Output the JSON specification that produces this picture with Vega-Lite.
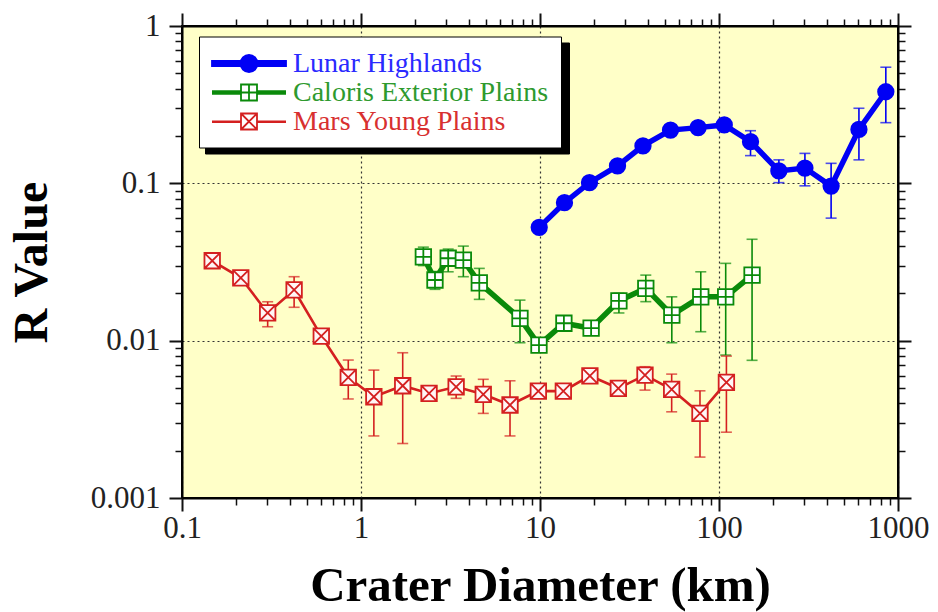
{
  "$schema": "https://vega.github.io/schema/vega-lite/v6.json",
  "width": 716,
  "height": 472,
  "autosize": {"type": "none"},
  "padding": {"left": 182, "top": 26, "right": 40, "bottom": 114},
  "background": "white",
  "view": {"fill": "#ffffc8", "stroke": "black", "strokeWidth": 2},
  "config": {
    "font": "Liberation Serif",
    "legend": {
      "orient": "none",
      "title": null,
      "symbolSize": 784,
      "labelOffset": 52,
      "padding": 12,
      "rowPadding": 0,
      "labelFont": "Liberation Serif",
      "labelFontSize": 28,
      "labelLimit": 600
    }
  },
  "data": {
    "values": [
      {"series": "Lunar Highlands", "D": 9.9, "R": 0.0525},
      {"series": "Lunar Highlands", "D": 13.7, "R": 0.0753},
      {"series": "Lunar Highlands", "D": 18.9, "R": 0.101},
      {"series": "Lunar Highlands", "D": 27.1, "R": 0.129},
      {"series": "Lunar Highlands", "D": 37.6, "R": 0.173},
      {"series": "Lunar Highlands", "D": 53.6, "R": 0.218},
      {"series": "Lunar Highlands", "D": 76.4, "R": 0.226},
      {"series": "Lunar Highlands", "D": 107, "R": 0.235},
      {"series": "Lunar Highlands", "D": 150, "R": 0.184, "lo": 0.150, "hi": 0.216},
      {"series": "Lunar Highlands", "D": 216, "R": 0.120, "lo": 0.101, "hi": 0.141},
      {"series": "Lunar Highlands", "D": 302, "R": 0.125, "lo": 0.0964, "hi": 0.155},
      {"series": "Lunar Highlands", "D": 423, "R": 0.096, "lo": 0.0601, "hi": 0.134},
      {"series": "Lunar Highlands", "D": 605, "R": 0.220, "lo": 0.141, "hi": 0.300},
      {"series": "Lunar Highlands", "D": 855, "R": 0.382, "lo": 0.243, "hi": 0.547},
      {"series": "Caloris Exterior Plains", "D": 2.23, "R": 0.0341, "lo": 0.030, "hi": 0.0393},
      {"series": "Caloris Exterior Plains", "D": 2.59, "R": 0.0243, "lo": 0.0212, "hi": 0.0275},
      {"series": "Caloris Exterior Plains", "D": 3.07, "R": 0.0334, "lo": 0.0274, "hi": 0.0382},
      {"series": "Caloris Exterior Plains", "D": 3.73, "R": 0.0325, "lo": 0.0255, "hi": 0.0399},
      {"series": "Caloris Exterior Plains", "D": 4.58, "R": 0.0233, "lo": 0.0183, "hi": 0.0288},
      {"series": "Caloris Exterior Plains", "D": 7.73, "R": 0.01386, "lo": 0.0097, "hi": 0.0181},
      {"series": "Caloris Exterior Plains", "D": 9.87, "R": 0.00937},
      {"series": "Caloris Exterior Plains", "D": 13.6, "R": 0.0129},
      {"series": "Caloris Exterior Plains", "D": 19.3, "R": 0.0120},
      {"series": "Caloris Exterior Plains", "D": 27.6, "R": 0.0179, "lo": 0.0150, "hi": 0.0200},
      {"series": "Caloris Exterior Plains", "D": 39.0, "R": 0.0215, "lo": 0.0177, "hi": 0.0261},
      {"series": "Caloris Exterior Plains", "D": 54.5, "R": 0.01455, "lo": 0.0097, "hi": 0.0190},
      {"series": "Caloris Exterior Plains", "D": 79.1, "R": 0.0190, "lo": 0.0114, "hi": 0.0274},
      {"series": "Caloris Exterior Plains", "D": 109, "R": 0.0190, "lo": 0.0081, "hi": 0.0310},
      {"series": "Caloris Exterior Plains", "D": 153, "R": 0.0261, "lo": 0.0075, "hi": 0.0441},
      {"series": "Mars Young Plains", "D": 0.1475, "R": 0.0322},
      {"series": "Mars Young Plains", "D": 0.213, "R": 0.0251},
      {"series": "Mars Young Plains", "D": 0.301, "R": 0.0150, "lo": 0.01226, "hi": 0.01767},
      {"series": "Mars Young Plains", "D": 0.423, "R": 0.0210, "lo": 0.0163, "hi": 0.0255},
      {"series": "Mars Young Plains", "D": 0.600, "R": 0.0107},
      {"series": "Mars Young Plains", "D": 0.849, "R": 0.00585, "lo": 0.00426, "hi": 0.00753},
      {"series": "Mars Young Plains", "D": 1.18, "R": 0.00440, "lo": 0.00248, "hi": 0.0065},
      {"series": "Mars Young Plains", "D": 1.71, "R": 0.00517, "lo": 0.00222, "hi": 0.00838},
      {"series": "Mars Young Plains", "D": 2.40, "R": 0.00462},
      {"series": "Mars Young Plains", "D": 3.40, "R": 0.00509, "lo": 0.0043, "hi": 0.00596},
      {"series": "Mars Young Plains", "D": 4.82, "R": 0.00456, "lo": 0.00345, "hi": 0.00568},
      {"series": "Mars Young Plains", "D": 6.80, "R": 0.00390, "lo": 0.00248, "hi": 0.00556},
      {"series": "Mars Young Plains", "D": 9.79, "R": 0.00478},
      {"series": "Mars Young Plains", "D": 13.5, "R": 0.00478},
      {"series": "Mars Young Plains", "D": 19.0, "R": 0.00598},
      {"series": "Mars Young Plains", "D": 27.4, "R": 0.00498},
      {"series": "Mars Young Plains", "D": 38.6, "R": 0.00604, "lo": 0.00485, "hi": 0.00683},
      {"series": "Mars Young Plains", "D": 54.4, "R": 0.00490, "lo": 0.00353, "hi": 0.00613},
      {"series": "Mars Young Plains", "D": 78.3, "R": 0.00345, "lo": 0.00182, "hi": 0.0048},
      {"series": "Mars Young Plains", "D": 110, "R": 0.00543, "lo": 0.00262, "hi": 0.00798}
    ]
  },
  "encoding": {
    "color": {
      "field": "series",
      "type": "nominal",
      "scale": {
        "domain": ["Lunar Highlands", "Caloris Exterior Plains", "Mars Young Plains"],
        "range": ["#0000f5", "#0a8a0a", "#d42020"]
      },
      "legend": {
        "legendX": 23,
        "legendY": 16.5,
        "zindex": 1,
        "symbolType": "stroke",
        "symbolOpacity": 0,
        "labelOpacity": 0,
        "labelExpr": "''",
        "labelOffset": 310,
        "fillColor": "black",
        "strokeColor": "black"
      }
    }
  },
  "resolve": {"axis": {"x": "independent", "y": "independent"}},
  "layer": [
    {
      "transform": [{"filter": "isValid(datum.lo)"}],
      "mark": {"type": "rule", "strokeWidth": 1.6},
      "encoding": {
        "x": {
          "field": "D", "type": "quantitative",
          "scale": {"type": "log", "domain": [0.1, 1000], "nice": false},
          "axis": {
            "orient": "bottom",
            "values": [0.1,0.2,0.3,0.4,0.5,0.6,0.7,0.8,0.9,1,2,3,4,5,6,7,8,9,10,20,30,40,50,60,70,80,90,100,200,300,400,500,600,700,800,900,1000],
            "labelExpr": "abs(log(datum.value)/LN10 - round(log(datum.value)/LN10)) < 0.001 ? format(datum.value, '') : ''",
            "tickSize": {"condition": {"test": "abs(log(datum.value)/LN10 - round(log(datum.value)/LN10)) < 0.001", "value": 13}, "value": 7},
            "tickWidth": {"condition": {"test": "abs(log(datum.value)/LN10 - round(log(datum.value)/LN10)) < 0.001", "value": 2}, "value": 1.5},
            "tickColor": "#111",
            "grid": true,
            "gridColor": "#333",
            "gridDash": [2, 3],
            "gridWidth": 1.2,
            "gridOpacity": {"condition": {"test": "abs(log(datum.value)/LN10 - round(log(datum.value)/LN10)) < 0.001", "value": 1}, "value": 0},
            "domainColor": "black",
            "domainWidth": 2,
            "labelFont": "Liberation Serif",
            "labelFontSize": 31,
            "labelColor": "#222",
            "labelPadding": 2,
            "labelOverlap": false,
            "labelFlush": false,
            "labelBound": false,
            "title": "Crater Diameter (km)",
            "titleFont": "Liberation Serif",
            "titleFontSize": 49,
            "titleFontWeight": "bold",
            "titleColor": "black",
            "titlePadding": 18
          }
        },
        "y": {
          "field": "lo", "type": "quantitative",
          "scale": {"type": "log", "domain": [0.001, 1], "nice": false},
          "axis": {
            "orient": "left",
            "values": [0.001,0.002,0.003,0.004,0.005,0.006,0.007,0.008,0.009,0.01,0.02,0.03,0.04,0.05,0.06,0.07,0.08,0.09,0.1,0.2,0.3,0.4,0.5,0.6,0.7,0.8,0.9,1],
            "labelExpr": "abs(log(datum.value)/LN10 - round(log(datum.value)/LN10)) < 0.001 ? format(datum.value, '') : ''",
            "tickSize": {"condition": {"test": "abs(log(datum.value)/LN10 - round(log(datum.value)/LN10)) < 0.001", "value": 13}, "value": 7},
            "tickWidth": {"condition": {"test": "abs(log(datum.value)/LN10 - round(log(datum.value)/LN10)) < 0.001", "value": 2}, "value": 1.5},
            "tickColor": "#111",
            "grid": true,
            "gridColor": "#333",
            "gridDash": [2, 3],
            "gridWidth": 1.2,
            "gridOpacity": {"condition": {"test": "abs(log(datum.value)/LN10 - round(log(datum.value)/LN10)) < 0.001", "value": 1}, "value": 0},
            "domainColor": "black",
            "domainWidth": 2,
            "labelFont": "Liberation Serif",
            "labelFontSize": 31,
            "labelColor": "#222",
            "labelPadding": 9,
            "labelOverlap": false,
            "labelFlush": false,
            "labelBound": false,
            "title": "R Value",
            "titleFont": "Liberation Serif",
            "titleFontSize": 48,
            "titleFontWeight": "bold",
            "titleColor": "black",
            "titlePadding": 34
          }
        },
        "y2": {"field": "hi"}
      }
    },
    {
      "transform": [{"filter": "isValid(datum.lo)"}],
      "mark": {"type": "tick", "orient": "horizontal", "size": 11, "thickness": 1.6},
      "encoding": {
        "x": {"field": "D", "type": "quantitative", "scale": {"type": "log", "domain": [0.1, 1000], "nice": false}, "axis": null},
        "y": {"field": "lo", "type": "quantitative", "scale": {"type": "log", "domain": [0.001, 1], "nice": false}, "axis": null}
      }
    },
    {
      "transform": [{"filter": "isValid(datum.hi)"}],
      "mark": {"type": "tick", "orient": "horizontal", "size": 11, "thickness": 1.6},
      "encoding": {
        "x": {"field": "D", "type": "quantitative", "scale": {"type": "log", "domain": [0.1, 1000], "nice": false}, "axis": null},
        "y": {"field": "hi", "type": "quantitative", "scale": {"type": "log", "domain": [0.001, 1], "nice": false}, "axis": null}
      }
    },
    {
      "mark": {"type": "line"},
      "encoding": {
        "x": {
          "field": "D", "type": "quantitative",
          "scale": {"type": "log", "domain": [0.1, 1000], "nice": false},
          "axis": {
            "orient": "top",
            "values": [0.1,0.2,0.3,0.4,0.5,0.6,0.7,0.8,0.9,1,2,3,4,5,6,7,8,9,10,20,30,40,50,60,70,80,90,100,200,300,400,500,600,700,800,900,1000],
            "labels": false,
            "grid": false,
            "title": null,
            "tickSize": {"condition": {"test": "abs(log(datum.value)/LN10 - round(log(datum.value)/LN10)) < 0.001", "value": 13}, "value": 7},
            "tickWidth": {"condition": {"test": "abs(log(datum.value)/LN10 - round(log(datum.value)/LN10)) < 0.001", "value": 2}, "value": 1.5},
            "tickColor": "#111",
            "domainColor": "black",
            "domainWidth": 2
          }
        },
        "y": {
          "field": "R", "type": "quantitative",
          "scale": {"type": "log", "domain": [0.001, 1], "nice": false},
          "axis": {
            "orient": "right",
            "values": [0.001,0.002,0.003,0.004,0.005,0.006,0.007,0.008,0.009,0.01,0.02,0.03,0.04,0.05,0.06,0.07,0.08,0.09,0.1,0.2,0.3,0.4,0.5,0.6,0.7,0.8,0.9,1],
            "labels": false,
            "grid": false,
            "title": null,
            "tickSize": {"condition": {"test": "abs(log(datum.value)/LN10 - round(log(datum.value)/LN10)) < 0.001", "value": 13}, "value": 7},
            "tickWidth": {"condition": {"test": "abs(log(datum.value)/LN10 - round(log(datum.value)/LN10)) < 0.001", "value": 2}, "value": 1.5},
            "tickColor": "#111",
            "domainColor": "black",
            "domainWidth": 2
          }
        },
        "strokeWidth": {"condition": {"test": "datum.series === 'Mars Young Plains'", "value": 2.6}, "value": 5.5}
      }
    },
    {
      "mark": {"type": "point", "filled": false, "size": 240, "strokeWidth": 1.8},
      "encoding": {
        "x": {"field": "D", "type": "quantitative", "scale": {"type": "log", "domain": [0.1, 1000], "nice": false}, "axis": null},
        "y": {"field": "R", "type": "quantitative", "scale": {"type": "log", "domain": [0.001, 1], "nice": false}, "axis": null},
        "fill": {
          "field": "series", "type": "nominal",
          "scale": {"domain": ["Lunar Highlands", "Caloris Exterior Plains", "Mars Young Plains"], "range": ["#0000f5", "white", "#fff6f6"]},
          "legend": null
        },
        "shape": {
          "field": "series", "type": "nominal",
          "scale": {"domain": ["Lunar Highlands", "Caloris Exterior Plains", "Mars Young Plains"], "range": ["circle", "M-1,-1H1V1H-1Z M0,-1V1 M-1,0H1", "M-1,-1H1V1H-1Z M-1,-1L1,1 M-1,1L1,-1"]},
          "legend": null
        },
        "opacity": {
          "field": "series", "type": "nominal",
          "sort": ["Lunar Highlands", "Caloris Exterior Plains", "Mars Young Plains"],
          "scale": {"range": [1, 1]},
          "legend": {
            "legendX": 17,
            "legendY": 10.5,
            "zindex": 2,
            "fillColor": "white",
            "strokeColor": "black",
            "symbolOpacity": 1,
            "symbolType": {"expr": "datum.value === 'Lunar Highlands' ? 'M-1,-0.18H4.286V0.18H-1Z M1.036,0A0.607,0.607 0 1,1 2.25,0A0.607,0.607 0 1,1 1.036,0Z' : datum.value === 'Caloris Exterior Plains' ? 'M1.072,-0.571H2.214V0.571H1.072Z M1.643,-0.571V0.571 M1.072,0H2.214 M-1,-0.1H1.072 M-1,0H1.072 M-1,0.1H1.072 M2.214,-0.1H4.286 M2.214,0H4.286 M2.214,0.1H4.286' : 'M1.072,-0.571H2.214V0.571H1.072Z M1.072,-0.571L2.214,0.571 M1.072,0.571L2.214,-0.571 M-1,0H1.072 M2.214,0H4.286 M-1,0.05H1.072 M2.214,0.05H4.286'"},
            "symbolFillColor": {"expr": "datum.value === 'Lunar Highlands' ? '#0000f5' : 'white'"},
            "symbolStrokeColor": {"expr": "datum.value === 'Lunar Highlands' ? '#0000f5' : datum.value === 'Caloris Exterior Plains' ? '#0a8a0a' : '#d42020'"},
            "symbolStrokeWidth": 1.8,
            "labelColor": {"expr": "datum.value === 'Lunar Highlands' ? '#2a2aff' : datum.value === 'Caloris Exterior Plains' ? '#2e9a2e' : '#d83030'"}
          }
        }
      }
    }
  ]
}
